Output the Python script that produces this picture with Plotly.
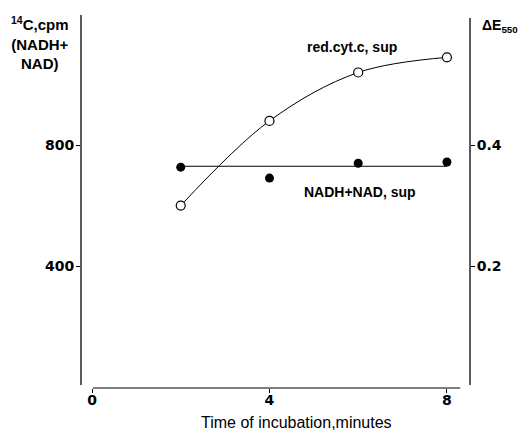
import plotly.graph_objects as go

# Data
time_min = [2, 4, 6, 8]
nadh_nad_cpm = [727, 691, 740, 744]          # filled circles, left axis (14C cpm)
nadh_nad_level = [730, 730]                   # horizontal line level
nadh_nad_line_x = [2, 8]
red_cytc_dE = [0.30, 0.44, 0.52, 0.545]       # open circles, right axis (ΔE550)

x_ticks = [0, 4, 8]
left_ticks = [400, 800]
right_ticks = [0.2, 0.4]

FONT = "Liberation Sans, Arial, sans-serif"
TFONT = "DejaVu Sans, Liberation Sans, sans-serif"

W, H = 527, 431
ML, MR, MT, MB = 81, 57, 15, 43
pw, ph = W - ML - MR, H - MT - MB


def px_to_paper(x, y):
    return (x - ML) / pw, (H - y - MB) / ph


fig = go.Figure()

fig.add_trace(go.Scatter(
    x=time_min, y=red_cytc_dE, yaxis="y2", mode="lines",
    line=dict(color="black", width=1, shape="spline", smoothing=1.0),
    hoverinfo="skip", showlegend=False))
fig.add_trace(go.Scatter(
    x=time_min, y=red_cytc_dE, yaxis="y2", mode="markers",
    marker=dict(symbol="circle", size=9, color="white", line=dict(color="black", width=1.2)),
    showlegend=False))
fig.add_trace(go.Scatter(
    x=nadh_nad_line_x, y=nadh_nad_level, mode="lines",
    line=dict(color="black", width=1), showlegend=False))
fig.add_trace(go.Scatter(
    x=time_min, y=nadh_nad_cpm, mode="markers",
    marker=dict(symbol="circle", size=9, color="black"),
    showlegend=False))

yr = [-3, 1230]
tick_font = dict(family=TFONT, size=14, color="black", weight="bold")

lx, ly = px_to_paper(40, 12)
rx, ry = px_to_paper(500, 26)
tx, ty = px_to_paper(296, 422)

fig.update_layout(
    width=W, height=H,
    margin=dict(l=ML, r=MR, t=MT, b=MB, autoexpand=False),
    paper_bgcolor="white", plot_bgcolor="white",
    font=dict(family=FONT, size=13, color="black"),
    xaxis=dict(range=[-0.248, 8.52], tickvals=x_ticks, ticks="outside", ticklen=4,
               tickcolor="black", showgrid=False, zeroline=False, showline=False,
               automargin=False, tickfont=tick_font, ticklabelstandoff=-5),
    yaxis=dict(range=yr, tickvals=left_ticks, ticks="outside", ticklen=4,
               tickcolor="black", showgrid=False, zeroline=False, showline=False,
               automargin=False, tickfont=tick_font, ticklabelstandoff=-1),
    yaxis2=dict(range=[yr[0] / 2000, yr[1] / 2000], tickvals=right_ticks,
                ticktext=["0.2", "0.4"],
                overlaying="y", side="right", ticks="outside", ticklen=4,
                tickcolor="black", showgrid=False, zeroline=False, showline=False,
                automargin=False, tickfont=tick_font, ticklabelstandoff=-1),
    shapes=[
        dict(type="line", xref="paper", yref="paper", x0=0, x1=0, y0=0.008, y1=1,
             line=dict(color="black", width=1.3)),
        dict(type="line", xref="paper", yref="paper", x0=1, x1=1, y0=0.008, y1=0.992,
             line=dict(color="black", width=1.3)),
        dict(type="line", xref="x", yref="paper", x0=0.02, x1=8.3, y0=0, y1=0,
             line=dict(color="black", width=1.2)),
    ],
    annotations=[
        dict(text="red.cyt.c, sup", x=5.86, y=1124, xref="x", yref="y",
             showarrow=False, font=dict(family=FONT, size=14, color="black", weight="bold")),
        dict(text="NADH+NAD, sup", x=6.04, y=645, xref="x", yref="y",
             showarrow=False, font=dict(family=FONT, size=14, color="black", weight="bold")),
        dict(text="<sup>14</sup>C,cpm<br>(NADH+<br>NAD)", x=lx, y=ly,
             xref="paper", yref="paper", showarrow=False, xanchor="center", yanchor="top",
             align="center", font=dict(family=FONT, size=15, color="black", weight="bold")),
        dict(text="ΔE<sub>550</sub>", x=rx, y=ry, xref="paper", yref="paper",
             showarrow=False, xanchor="center", yanchor="middle",
             font=dict(family=FONT, size=14, color="black", weight="bold")),
        dict(text="Time of incubation,minutes", x=tx, y=ty, xref="paper", yref="paper",
             showarrow=False, xanchor="center", yanchor="middle",
             font=dict(family=FONT, size=16, color="black")),
    ],
)

fig.write_html("out.html", config={"displayModeBar": False},
               post_script="document.body.style.margin='0';document.body.style.padding='0';")
